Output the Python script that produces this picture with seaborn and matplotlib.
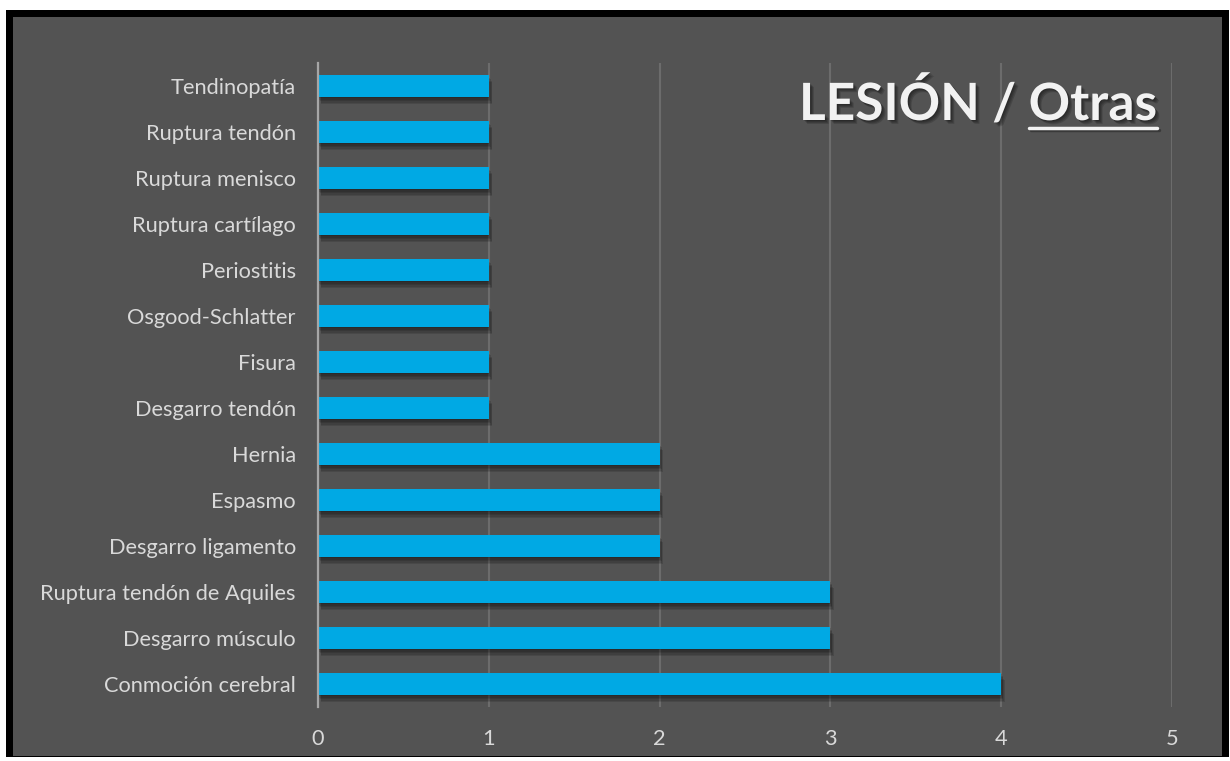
import matplotlib
matplotlib.use("Agg")
import matplotlib.pyplot as plt
import matplotlib.patheffects as pe
from matplotlib.patches import Rectangle
from matplotlib.lines import Line2D
import seaborn as sns
import pandas as pd

categories = ["Tendinopatía", "Ruptura tendón", "Ruptura menisco", "Ruptura cartílago",
              "Periostitis", "Osgood-Schlatter", "Fisura", "Desgarro tendón",
              "Hernia", "Espasmo", "Desgarro ligamento", "Ruptura tendón de Aquiles",
              "Desgarro músculo", "Conmoción cerebral"]
values = [1, 1, 1, 1, 1, 1, 1, 1, 2, 2, 2, 3, 3, 4]
x_ticks = [0, 1, 2, 3, 4, 5]
title_main = "LESIÓN / "
title_sub = "Otras"

BG = "#535353"
BAR = "#00A9E4"
TXT = "#D9D9D9"

sns.set_theme(style="dark")
plt.rcParams["font.family"] = ["Lato", "DejaVu Sans"]

fig = plt.figure(figsize=(12.3, 7.61), dpi=100)
fig.patch.set_facecolor("white")
# black frame + gray panel
fig.patches.append(Rectangle((6/1230, 4/761), 1223/1230, 747/761, transform=fig.transFigure,
                             facecolor="black", edgecolor="none", zorder=-2))
fig.patches.append(Rectangle((13/1230, 5/761), 1209/1230, 739/761, transform=fig.transFigure,
                             facecolor=BG, edgecolor="none", zorder=-1))

ax = fig.add_axes([318/1230, 1 - 707/761, (1172 - 318)/1230, (707 - 63)/761])
ax.set_zorder(2)
ax.set_facecolor(BG)

df = pd.DataFrame({"cat": categories, "val": values})
sns.barplot(data=df, x="val", y="cat", orient="h", color=BAR, width=0.48,
            saturation=1, ax=ax, zorder=3)
bar_shadow = [pe.SimplePatchShadow(offset=(o * 0.5, -o), shadow_rgbFace="black", alpha=0.12)
              for o in (1, 2, 3, 4, 5)] + [pe.Normal()]
for p in ax.patches:
    p.set_edgecolor("none")
    p.set_path_effects(bar_shadow)

ax.set_xlim(0, 5)
ax.set_ylim(len(categories) - 0.5, -0.5)
ax.set_xticks(x_ticks)
ax.set_xticklabels([str(t) for t in x_ticks])
ax.xaxis.grid(True, color="#6C6C6C", linewidth=1.5, zorder=0)
ax.yaxis.grid(False)
ax.set_axisbelow(True)
for s in ["top", "right", "bottom"]:
    ax.spines[s].set_visible(False)
ax.spines["left"].set_color("#A6A6A6")
ax.spines["left"].set_linewidth(1.6)
ax.spines["left"].set_zorder(5)
ax.set_xlabel("")
ax.set_ylabel("")
ax.tick_params(axis="y", length=0, pad=16, labelsize=15.7, labelcolor=TXT)
ax.tick_params(axis="x", length=0, pad=16, labelsize=15.7, labelcolor=TXT)

tpe = [pe.SimplePatchShadow(offset=(o * 0.7, -o * 0.7), shadow_rgbFace="black", alpha=0.15)
       for o in (1, 2, 3, 4)] + [pe.Normal()]
t2 = fig.text(1157/1230, 1 - 120/761, title_sub, ha="right", va="baseline",
              fontsize=37, fontweight="bold", color="#F2F2F2", path_effects=tpe, zorder=5)
fig.canvas.draw()
r = fig.canvas.get_renderer()
bb = t2.get_window_extent(r)
t1 = fig.text(bb.x0 / 1230, 1 - 120/761, title_main, ha="right", va="baseline",
              fontsize=37, fontweight="bold", color="#F2F2F2", path_effects=tpe, zorder=5)
uy = 1 - 128/761
fig.lines.append(Line2D([bb.x0/1230, bb.x1/1230], [uy, uy], transform=fig.transFigure,
                        color="#F2F2F2", linewidth=2.5, zorder=5,
                        path_effects=[pe.SimpleLineShadow(offset=(1.5, -1.5), shadow_color="black", alpha=0.3), pe.Normal()]))

fig.savefig("out.png", dpi=100, facecolor=fig.get_facecolor())
